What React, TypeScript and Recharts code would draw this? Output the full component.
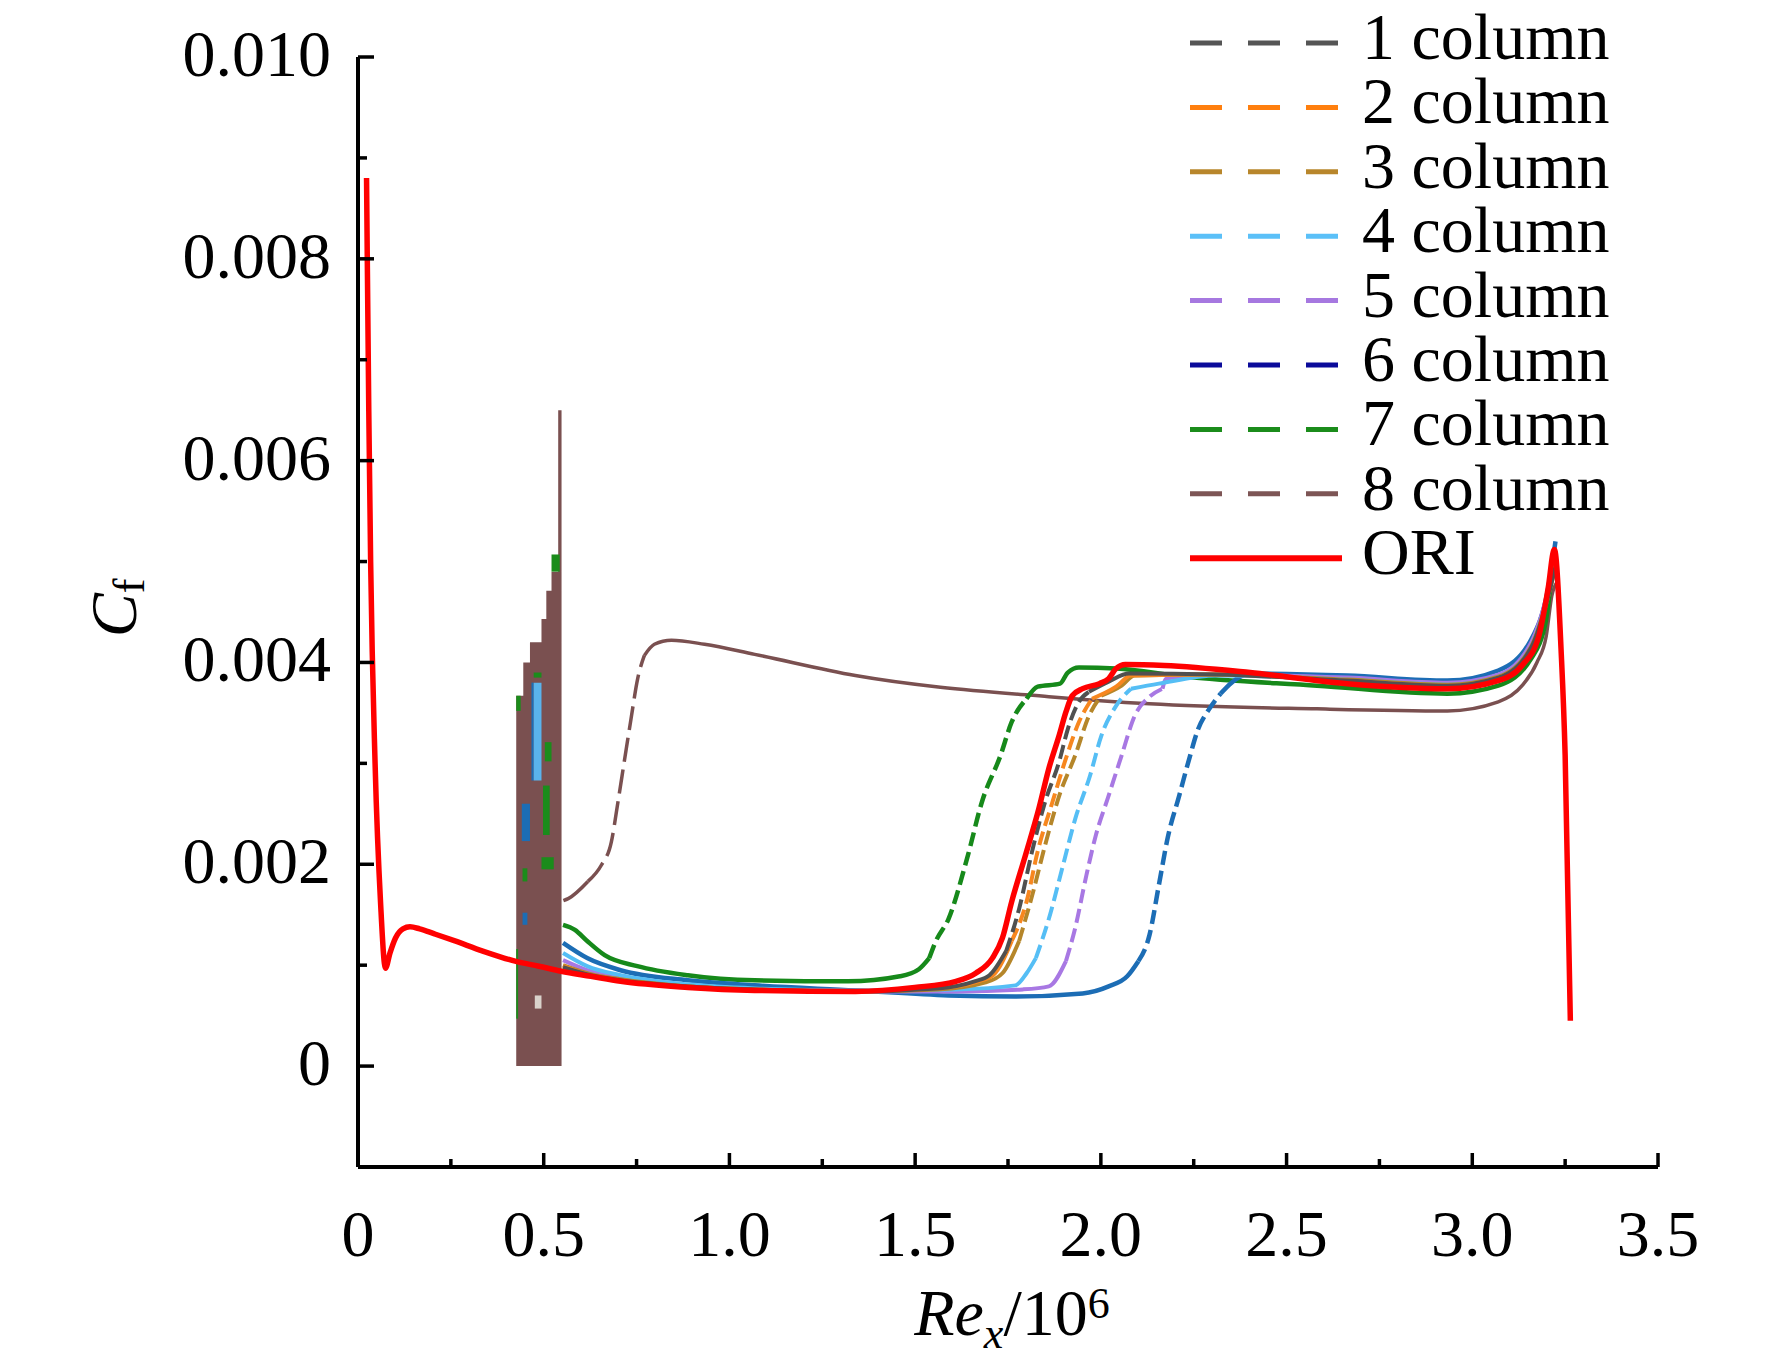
import { Area, ComposedChart, Legend, Line, XAxis, YAxis } from 'recharts'

type Pt = [number, number]
type Patch = [number, number, number, number] // x0, x1, low, high

const W = 1772
const H = 1369
const FONT = '"Liberation Serif", "Times New Roman", serif'

// Ticks (Re_x/10^6 and Cf)
const xMajorTicks = [0, 0.5, 1.0, 1.5, 2.0, 2.5, 3.0, 3.5]
const xTickLabels = ['0', '0.5', '1.0', '1.5', '2.0', '2.5', '3.0', '3.5']
const xMinorTicks = [0.25, 0.75, 1.25, 1.75, 2.25, 2.75, 3.25]
const yMajorTicks = [0, 0.002, 0.004, 0.006, 0.008, 0.01]
const yTickLabels = ['0', '0.002', '0.004', '0.006', '0.008', '0.010']
const yMinorTicks = [0.001, 0.003, 0.005, 0.007, 0.009]

// ORI (smooth surface)
const ori: Pt[] = [
  [0.023, 0.0088], [0.025, 0.008], [0.029, 0.0065], [0.034, 0.005], [0.046, 0.003],
  [0.061, 0.0016], [0.074, 0.00097], [0.086, 0.00112], [0.101, 0.00127], [0.121, 0.00136],
  [0.14, 0.00138], [0.166, 0.00136], [0.206, 0.00131], [0.261, 0.00124], [0.336, 0.00114],
  [0.423, 0.00104], [0.487, 0.00099], [0.547, 0.00094], [0.627, 0.00089], [0.707, 0.00084],
  [0.888, 0.00078], [1.068, 0.00075], [1.339, 0.00074], [1.499, 0.00078], [1.61, 0.00084],
  [1.663, 0.00092], [1.708, 0.00107], [1.735, 0.00127], [1.76, 0.00163], [1.797, 0.00209],
  [1.833, 0.00255], [1.86, 0.00295], [1.888, 0.00328], [1.906, 0.00351], [1.923, 0.00367],
  [1.951, 0.00374], [1.996, 0.00379], [2.021, 0.00384], [2.041, 0.00394], [2.066, 0.00398],
  [2.171, 0.00397], [2.402, 0.0039], [2.663, 0.00379], [2.933, 0.00374], [3.07, 0.00382],
  [3.134, 0.00397], [3.179, 0.00426], [3.204, 0.00473], [3.221, 0.00512], [3.239, 0.00413],
  [3.25, 0.00308], [3.264, 0.00045],
]

const col1: Pt[] = [
  [0.552, 0.00098], [0.627, 0.0009], [0.707, 0.00085], [0.888, 0.00079], [1.068, 0.00076],
  [1.339, 0.00074], [1.56, 0.00077], [1.66, 0.00084], [1.7, 0.0009], [1.745, 0.00114],
  [1.78, 0.00156], [1.815, 0.00213], [1.85, 0.00262], [1.888, 0.00302], [1.911, 0.00334],
  [1.941, 0.00361], [1.968, 0.00371], [2.021, 0.00381], [2.076, 0.00389], [2.312, 0.00388],
  [2.663, 0.00382], [2.933, 0.00377], [3.07, 0.00385], [3.159, 0.00415], [3.204, 0.00465],
  [3.224, 0.00495],
]

const col2: Pt[] = [
  [0.552, 0.00099], [0.627, 0.0009], [0.707, 0.00085], [0.888, 0.00079], [1.068, 0.00076],
  [1.339, 0.00074], [1.56, 0.00077], [1.67, 0.00084], [1.71, 0.0009], [1.76, 0.00124],
  [1.8, 0.00163], [1.83, 0.00213], [1.87, 0.00262], [1.906, 0.00305], [1.941, 0.00341],
  [1.976, 0.00364], [2.041, 0.00376], [2.081, 0.00387], [2.312, 0.00388], [2.663, 0.00382],
  [2.933, 0.00377], [3.07, 0.00385], [3.159, 0.00415], [3.204, 0.00465], [3.224, 0.00495],
]

const col3: Pt[] = [
  [0.552, 0.001], [0.627, 0.00091], [0.707, 0.00086], [0.888, 0.00079], [1.068, 0.00076],
  [1.339, 0.00074], [1.56, 0.00076], [1.69, 0.00083], [1.735, 0.00092], [1.78, 0.00124],
  [1.815, 0.00169], [1.85, 0.00219], [1.888, 0.00268], [1.931, 0.00308], [1.968, 0.00347],
  [2.001, 0.00367], [2.056, 0.00377], [2.091, 0.00387], [2.312, 0.00388], [2.663, 0.00383],
  [2.933, 0.00378], [3.07, 0.00386], [3.159, 0.00416], [3.204, 0.00466], [3.224, 0.00496],
]

const col4: Pt[] = [
  [0.552, 0.00112], [0.617, 0.00099], [0.707, 0.0009], [0.888, 0.00081], [1.068, 0.00077],
  [1.339, 0.00075], [1.61, 0.00076], [1.77, 0.0008], [1.8, 0.00092], [1.825, 0.00107],
  [1.86, 0.00146], [1.896, 0.00196], [1.931, 0.00245], [1.971, 0.00288], [2.001, 0.00327],
  [2.041, 0.00357], [2.081, 0.00374], [2.156, 0.00379], [2.312, 0.00387], [2.663, 0.00383],
  [2.933, 0.00378], [3.07, 0.00386], [3.159, 0.00416], [3.204, 0.00468], [3.224, 0.005],
]

const col5: Pt[] = [
  [0.552, 0.00105], [0.617, 0.00095], [0.707, 0.00087], [0.888, 0.0008], [1.068, 0.00076],
  [1.339, 0.00074], [1.61, 0.00074], [1.79, 0.00076], [1.86, 0.00079], [1.906, 0.00104],
  [1.931, 0.00137], [1.961, 0.00189], [1.986, 0.00228], [2.021, 0.00268], [2.056, 0.00308],
  [2.091, 0.00347], [2.131, 0.00366], [2.166, 0.00374], [2.176, 0.00384], [2.312, 0.00388],
  [2.663, 0.00385], [2.933, 0.0038], [3.07, 0.00388], [3.159, 0.0042], [3.204, 0.0047],
  [3.224, 0.005],
]

const col6: Pt[] = [
  [0.552, 0.00122], [0.617, 0.00107], [0.707, 0.00095], [0.888, 0.00085], [1.068, 0.0008],
  [1.339, 0.00075], [1.59, 0.0007], [1.77, 0.00069], [1.951, 0.00072], [2.021, 0.00079],
  [2.071, 0.00089], [2.101, 0.00104], [2.131, 0.0013], [2.156, 0.00179], [2.181, 0.00228],
  [2.211, 0.00268], [2.236, 0.00302], [2.262, 0.00334], [2.292, 0.00354], [2.322, 0.00369],
  [2.352, 0.0038], [2.402, 0.00389], [2.663, 0.00387], [2.933, 0.00382], [3.07, 0.00392],
  [3.159, 0.00423], [3.204, 0.00473], [3.224, 0.0052],
]

const col7: Pt[] = [
  [0.552, 0.0014], [0.584, 0.00135], [0.617, 0.00124], [0.664, 0.0011], [0.752, 0.00099],
  [0.888, 0.0009], [1.068, 0.00085], [1.319, 0.00084], [1.459, 0.00089], [1.51, 0.00096],
  [1.538, 0.00107], [1.556, 0.00124], [1.59, 0.00146], [1.64, 0.00206], [1.68, 0.00262],
  [1.73, 0.00308], [1.76, 0.00341], [1.8, 0.00364], [1.83, 0.00376], [1.89, 0.00379],
  [1.911, 0.0039], [1.941, 0.00395], [2.041, 0.00394], [2.221, 0.00386], [2.582, 0.00377],
  [2.933, 0.00369], [3.07, 0.00377], [3.159, 0.00404], [3.199, 0.00443], [3.214, 0.0049],
]

const col8: Pt[] = [
  [0.553, 0.00164], [0.566, 0.00166], [0.619, 0.00183], [0.655, 0.00199], [0.682, 0.00222],
  [0.7, 0.00262], [0.717, 0.00302], [0.735, 0.00344], [0.753, 0.00384], [0.771, 0.00407],
  [0.798, 0.00418], [0.844, 0.00422], [0.933, 0.00418], [1.068, 0.00408], [1.339, 0.00387],
  [1.86, 0.00366], [2.131, 0.00359], [2.582, 0.00354], [2.933, 0.00352], [3.07, 0.00361],
  [3.134, 0.00377], [3.174, 0.004], [3.199, 0.00426], [3.214, 0.00466], [3.229, 0.0048],
]

// Oscillating region behind the columns (upper envelope, stepped)
const col8Block: Pt[] = [
  [0.426, 0.00367], [0.445, 0.004], [0.463, 0.0042], [0.494, 0.00443], [0.507, 0.00471],
  [0.521, 0.0049], [0.539, 0.0065], [0.548, 0.0065],
]
const col7Patches: Patch[] = [
  [0.426, 0.431, 0.00047, 0.00116], [0.426, 0.438, 0.00352, 0.00367], [0.443, 0.456, 0.00183, 0.00196],
  [0.494, 0.527, 0.00195, 0.00207], [0.498, 0.516, 0.00229, 0.00278], [0.503, 0.521, 0.00302, 0.00321],
  [0.521, 0.543, 0.0049, 0.00507], [0.473, 0.494, 0.00385, 0.0039],
]
const col6Patches: Patch[] = [
  [0.441, 0.463, 0.00223, 0.0026], [0.443, 0.456, 0.0014, 0.00152], [0.467, 0.473, 0.00283, 0.0038],
]
const col4Patches: Patch[] = [[0.473, 0.494, 0.00283, 0.0038]]
const col1Patches: Patch[] = [[0.476, 0.494, 0.00057, 0.0007]]

interface SeriesDef {
  name: string
  data: Pt[]
  rise?: [number, number]
  color: string
  legend: string
  width: number
  dash?: string
}

// Drawing order: first is underneath.
const SERIES: SeriesDef[] = [
  { name: '8 column', data: col8, rise: [0.619, 0.771], color: '#7A5050', legend: '#7D5555', width: 3.5, dash: '24 8' },
  { name: '7 column', data: col7, rise: [1.538, 1.8], color: '#16891A', legend: '#1B8C1B', width: 4.5 },
  { name: '6 column', data: col6, rise: [2.101, 2.322], color: '#1C6DB5', legend: '#0B0B9A', width: 4.5 },
  { name: '5 column', data: col5, rise: [1.906, 2.166], color: '#A878E3', legend: '#A678E0', width: 4 },
  { name: '4 column', data: col4, rise: [1.825, 2.081], color: '#55BEF5', legend: '#5BC0F8', width: 4 },
  { name: '3 column', data: col3, rise: [1.78, 2.001], color: '#B5862A', legend: '#B8862B', width: 4 },
  { name: '2 column', data: col2, rise: [1.76, 1.976], color: '#F7871F', legend: '#FF7F0E', width: 4 },
  { name: '1 column', data: col1, rise: [1.745, 1.968], color: '#505050', legend: '#555555', width: 4 },
  { name: 'ORI', data: ori, color: '#FF0000', legend: '#FF0000', width: 5.5 },
]

const LEGEND_ORDER = ['1 column', '2 column', '3 column', '4 column', '5 column', '6 column', '7 column', '8 column', 'ORI']

function split(s: SeriesDef) {
  const rows = s.data.map(([x, y]) => ({ x, y }))
  if (!s.rise) return [{ rows, dashed: false }]
  const [a, b] = s.rise
  return [
    { rows: rows.filter((r) => r.x <= a), dashed: false },
    { rows: rows.filter((r) => r.x >= a && r.x <= b), dashed: true },
    { rows: rows.filter((r) => r.x >= b), dashed: false },
  ]
}

const patchRows = (p: Patch) => [
  { x: p[0], r: [p[2], p[3]] },
  { x: p[1], r: [p[2], p[3]] },
]

function XTick(props: any) {
  const { x, y, payload } = props
  const i = xMajorTicks.indexOf(payload.value)
  return (
    <g>
      <line x1={x} x2={x} y1={y} y2={y - (i >= 0 ? 14 : 8)} stroke="#000" strokeWidth={3.5} />
      {i >= 0 && (
        <text x={x} y={y + 89} textAnchor="middle" fontFamily={FONT} fontSize={66} fill="#000">
          {xTickLabels[i]}
        </text>
      )}
    </g>
  )
}

function YTick(props: any) {
  const { x, y, payload } = props
  const i = yMajorTicks.indexOf(payload.value)
  return (
    <g>
      <line x1={x} x2={x + (i >= 0 ? 16 : 9)} y1={y} y2={y} stroke="#000" strokeWidth={3.5} />
      {i >= 0 && (
        <text x={x - 27} y={y + 19} textAnchor="end" fontFamily={FONT} fontSize={66} fill="#000">
          {yTickLabels[i]}
        </text>
      )}
    </g>
  )
}

const XTitle = () => (
  <text x={1012} y={1335} textAnchor="middle" fontFamily={FONT} fontSize={66} fill="#000">
    <tspan fontStyle="italic">Re</tspan>
    <tspan fontStyle="italic" fontSize={44} dy={13}>x</tspan>
    <tspan dy={-13}>/10</tspan>
    <tspan fontSize={44} dy={-17}>6</tspan>
  </text>
)

const YTitle = () => (
  <text x={136} y={608} transform="rotate(-90 136 608)" textAnchor="middle" fontFamily={FONT} fontSize={66} fill="#000">
    <tspan fontStyle="italic">C</tspan>
    <tspan fontSize={44} dy={8}>f</tspan>
  </text>
)

// Legend drawn at the top-right, same placement as the figure.
function LegendBox() {
  return (
    <svg width={W} height={620} style={{ display: 'block' }}>
      {LEGEND_ORDER.map((name, i) => {
        const s = SERIES.find((d) => d.name === name)!
        const y = 43 + i * 64.4
        const solid = name === 'ORI'
        return (
          <g key={name}>
            <line
              x1={1190}
              x2={solid ? 1342 : 1338}
              y1={y}
              y2={y}
              stroke={s.legend}
              strokeWidth={solid ? 6 : 5}
              strokeDasharray={solid ? undefined : '32 26'}
            />
            <text x={1362} y={y + 16} fontFamily={FONT} fontSize={66} fill="#000">
              {name}
            </text>
          </g>
        )
      })}
    </svg>
  )
}

export default function App() {
  return (
    <div style={{ position: 'absolute', left: 0, top: 0, width: W, height: H, background: '#fff' }}>
      <ComposedChart width={W} height={H} margin={{ top: 57, right: 114, bottom: 0, left: 0 }}>
        <XAxis
          type="number"
          dataKey="x"
          domain={[0, 3.5]}
          allowDataOverflow
          ticks={[...xMajorTicks, ...xMinorTicks].sort((a, b) => a - b)}
          interval={0}
          tick={<XTick />}
          tickLine={false}
          tickSize={0}
          tickMargin={0}
          axisLine={{ stroke: '#000', strokeWidth: 4 }}
          height={H - 1167}
          label={{ content: () => <XTitle /> }}
        />
        <YAxis
          type="number"
          domain={[-0.001, 0.01]}
          allowDataOverflow
          ticks={[...yMajorTicks, ...yMinorTicks].sort((a, b) => a - b)}
          interval={0}
          tick={<YTick />}
          tickLine={false}
          tickSize={0}
          tickMargin={0}
          axisLine={{ stroke: '#000', strokeWidth: 4 }}
          width={358}
          label={{ content: () => <YTitle /> }}
        />
        <Legend
          layout="horizontal"
          verticalAlign="middle"
          align="center"
          wrapperStyle={{ left: 0, top: 0, width: W, height: 620 }}
          content={() => <LegendBox />}
        />

        <Area
          data={col8Block.map(([x, y]) => ({ x, y }))}
          dataKey="y"
          type="stepAfter"
          baseValue={0}
          fill="#7A5050"
          fillOpacity={1}
          stroke="none"
          isAnimationActive={false}
          legendType="none"
        />
        {[
          ...col7Patches.map((p) => ({ p, c: '#1B8C1B' })),
          ...col6Patches.map((p) => ({ p, c: '#1C6DB5' })),
          ...col4Patches.map((p) => ({ p, c: '#5AB4EC' })),
          ...col1Patches.map((p) => ({ p, c: '#D9D2CB' })),
        ].map(({ p, c }, i) => (
          <Area
            key={`patch-${i}`}
            data={patchRows(p)}
            dataKey="r"
            type="linear"
            fill={c}
            fillOpacity={1}
            stroke="none"
            isAnimationActive={false}
            legendType="none"
          />
        ))}

        {SERIES.flatMap((s) =>
          split(s).map((seg, j) => (
            <Line
              key={`${s.name}-${j}`}
              data={seg.rows}
              dataKey="y"
              type="monotone"
              stroke={s.color}
              strokeWidth={s.width}
              strokeDasharray={seg.dashed ? s.dash ?? '14 6' : undefined}
              dot={false}
              activeDot={false}
              isAnimationActive={false}
              legendType="none"
            />
          )),
        )}
      </ComposedChart>
    </div>
  )
}
